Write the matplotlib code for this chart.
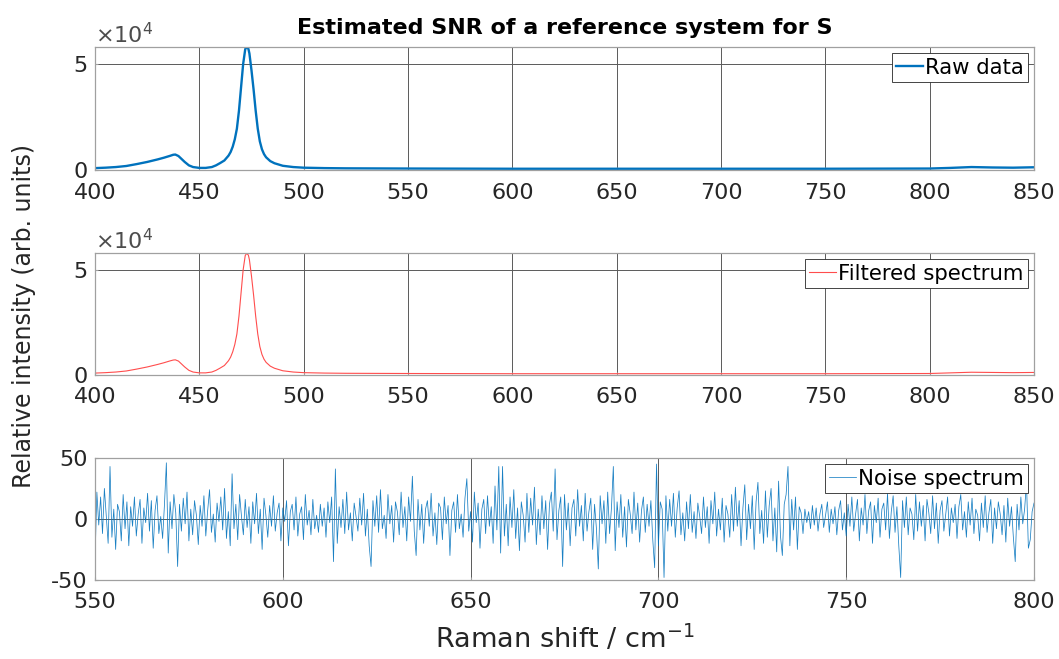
# -*- coding: utf-8 -*-
"""
Estimated SNR of a reference Raman system: raw, filtered and noise spectra.
"""

import numpy as np
import matplotlib
matplotlib.use('Agg')
import matplotlib.pyplot as plt
from matplotlib.ticker import ScalarFormatter

## Spectrum values (intensity in units of 1e4)
shift_raw = [400, 405, 410, 415, 420, 425, 430, 433, 436, 437.5, 438.5, 440, 441.5,
             443, 445, 447, 450, 453, 456, 458, 460, 462, 464, 465, 466, 467, 468,
             469, 470, 471, 472, 472.7, 473.5, 474, 475, 476, 477, 478, 479, 480,
             481, 482, 484, 486, 490, 495, 500, 510, 520, 550, 600, 650, 700, 750,
             800, 810, 820, 830, 840, 850]
raw_int = [0.09, 0.11, 0.14, 0.19, 0.28, 0.38, 0.50, 0.58, 0.67, 0.72, 0.73, 0.66, 0.52,
           0.38, 0.22, 0.14, 0.10, 0.10, 0.14, 0.22, 0.33, 0.45, 0.68, 0.85, 1.10, 1.45, 1.95,
           2.80, 3.90, 5.00, 5.70, 5.80, 5.72, 5.50, 4.70, 3.80, 2.80, 1.95, 1.35, 0.98,
           0.75, 0.60, 0.42, 0.32, 0.20, 0.14, 0.11, 0.09, 0.08, 0.07, 0.06, 0.06, 0.06, 0.06,
           0.07, 0.10, 0.14, 0.12, 0.11, 0.13]
filt_int = [0.09, 0.11, 0.14, 0.19, 0.28, 0.38, 0.50, 0.58, 0.67, 0.71, 0.72, 0.66, 0.52,
            0.38, 0.22, 0.14, 0.10, 0.10, 0.14, 0.22, 0.33, 0.45, 0.68, 0.85, 1.10, 1.45, 1.95,
            2.80, 3.90, 5.00, 5.68, 5.78, 5.70, 5.48, 4.70, 3.80, 2.80, 1.95, 1.35, 0.98,
            0.75, 0.60, 0.42, 0.32, 0.20, 0.14, 0.11, 0.09, 0.08, 0.07, 0.06, 0.06, 0.06, 0.06,
            0.07, 0.10, 0.13, 0.12, 0.11, 0.12]

## Noise spectrum values, 550 to 800 cm-1 in 0.5 cm-1 steps
noise_start = 550
noise_step = 0.5
noise_val = [
    -34, 22, -5, 18, -12, 25, 3, -20, 43, -15, 8, -25, 12, 6, -18, 20, -8, 14, -22, 10,
    -6, 18, -14, 4, 16, -20, 9, -3, 21, -10, 15, -24, 7, 19, -12, 2, -16, 12, 46, -28,
    14, -8, 20, 5, -39, 12, -10, 17, -4, 22, -18, 8, -13, 15, 3, -21, 11, -6, 19, -14,
    7, 24, -11, 4, -19, 13, -2, 18, -9, 25, -16, 6, -22, 37, -8, 12, -17, 20, 2, -13,
    16, -7, 10, -20, 14, -4, 21, -12, 8, -25, 17, 3, -15, 11, -6, 19, -10, 5, 13, -18,
    9, -2, 15, -22, 6, 12, -9, 18, -14, 4, 10, -17, 20, -5, 7, -13, 16, -8, 3, -11,
    12, -6, 9, -15, 14, -3, 18, -35, 41, -20, 10, -7, 16, -12, 22, -9, 5, -18, 13, 2,
    -10, 17, -5, 21, -14, 8, -22, -39, 15, -6, 19, -11, 24, -8, 3, -16, 20, -4, 11, -19,
    14, 6, -13, 22, -7, 10, -18, 18, -2, 35, -10, -30, 16, -9, 12, -20, 8, 15, -6, 21,
    -14, 5, -21, 13, 9, -17, 18, -4, 11, -30, 7, 14, -11, 20, -8, 4, -15, 17, 33, -10,
    6, -19, 22, -3, 13, -24, 8, 16, -12, 19, -6, 10, -20, 27, -9, 43, -28, 43, -14, 12,
    -22, 18, -7, 24, -16, 9, -26, 14, 3, -19, 21, -11, 17, -5, 26, -21, 8, -13, 19, -8,
    15, -25, 12, 22, -10, 41, -17, 7, 18, -39, 20, -9, 13, -22, 9, 16, -14, 24, -6, 11,
    -18, 21, -10, 6, 17, -25, 12, -8, -41, 19, -4, 15, -20, 22, -12, 9, 43, -26, 14, -7,
    20, -15, 10, -23, 16, 4, -12, 22, -9, 13, -19, 7, 18, -11, 12, -6, 15, -17, -40, 45,
    -22, 14, 8, -48, 19, -10, 16, -6, 21, -15, 9, 23, -13, 5, -18, 14, -8, 20, -11, 6,
    -16, 13, 2, -12, 18, -7, 10, -20, 15, -4, 22, -14, 8, -9, 17, -19, 11, 4, -15, 20,
    -10, 26, -6, 15, -22, 9, 28, -17, 12, -8, 19, -25, 14, 30, -12, 7, -20, 23, -15, 11,
    25, -18, 9, -27, 31, -14, -30, 12, 20, 43, -22, 16, -9, 18, -25, 10, 5, -12, 8, -3,
    6, -8, 11, -5, 9, -10, 4, 12, -7, 3, 14, -11, 8, -4, 10, -13, 7, 15, -9, 5,
    -14, 12, -6, 18, -10, 4, 16, -18, 9, -5, 20, -12, 7, 14, -20, 11, -3, 17, -15, 8,
    13, -9, 21, -16, 6, 19, -11, 10, -22, -48, 15, -7, 18, -13, 9, 4, -17, 20, -10, 14,
    -6, 11, -18, 16, 5, -12, 19, -8, 13, -20, 7, 15, -10, 4, 18, -14, 9, -3, 12, -16,
    10, 20, -9, 6, -15, 14, -5, 17, -12, 8, 3, -18, 13, -7, 19, -11, 5, 16, -20, 9,
    -8, 14, 4, -13, 11, -19, 17, -6, 10, -15, -35, 12, -9, 18, -4, 8, 30, -24, -17, 6,
    13]

top_ticks = [400, 450, 500, 550, 600, 650, 700, 750, 800, 850]
noise_ticks = [550, 600, 650, 700, 750, 800]

# Convert to arrays
x_raw = np.array(shift_raw)
y_raw = np.array(raw_int) * 1e4
y_filt = np.array(filt_int) * 1e4
x_noise = noise_start + noise_step * np.arange(len(noise_val))
y_noise = np.array(noise_val)

# Font setup
plt.rcParams['font.family'] = ['DejaVu Sans']
plt.rcParams['mathtext.fontset'] = 'dejavusans'
plt.rcParams['axes.unicode_minus'] = False
txt_col = '#262626'
tick_size = 16
leg_size = 15.3

fig_ure = plt.figure(figsize=(10.59, 6.59), dpi=100)
ax1 = fig_ure.add_axes([0.0897, 0.742, 0.8867, 0.1866])
ax2 = fig_ure.add_axes([0.0897, 0.431, 0.8867, 0.1851])
ax3 = fig_ure.add_axes([0.0897, 0.120, 0.8867, 0.1851])


def style_axes(ax):
    ax.grid(True, color='#5a5a5a', linewidth=0.7)
    ax.set_axisbelow(True)
    for sp in ax.spines.values():
        sp.set_color('#a0a0a0')
        sp.set_linewidth(0.9)
    ax.tick_params(direction='in', length=2, color='#a0a0a0',
                   labelsize=tick_size, labelcolor=txt_col)
    ax.tick_params(axis='x', pad=9)
    ax.tick_params(axis='y', pad=5.5)


def add_legend(ax):
    leg_end = ax.legend(loc='upper right', fontsize=leg_size, fancybox=False,
                        framealpha=1, edgecolor='#262626', handlelength=1.25,
                        handletextpad=0.1, borderpad=0.2, borderaxespad=0.3)
    leg_end.get_frame().set_linewidth(0.6)
    for txt in leg_end.get_texts():
        txt.set_color('black')


# Raw data
ax1.plot(x_raw, y_raw, color='#0072BD', linewidth=1.7, label='Raw data')
ax1.set_xlim(400, 850)
ax1.set_ylim(0, 5.8e4)
ax1.set_xticks(top_ticks)
ax1.set_yticks([0, 5e4])
style_axes(ax1)
add_legend(ax1)

# Filtered spectrum
ax2.plot(x_raw, y_filt, color='#ff4d4d', linewidth=0.8, label='Filtered spectrum')
ax2.set_xlim(400, 850)
ax2.set_ylim(0, 5.8e4)
ax2.set_xticks(top_ticks)
ax2.set_yticks([0, 5e4])
style_axes(ax2)
add_legend(ax2)

# Scientific notation on the two spectrum panels
for ax in (ax1, ax2):
    fmt = ScalarFormatter(useMathText=True)
    fmt.set_powerlimits((0, 0))
    ax.yaxis.set_major_formatter(fmt)
    ax.yaxis.get_offset_text().set_fontsize(tick_size)
    ax.yaxis.get_offset_text().set_color('#4d4d4d')

# Noise spectrum
ax3.plot(x_noise, y_noise, color='#0072BD', linewidth=0.55, alpha=0.9,
         label='Noise spectrum')
ax3.set_xlim(550, 800)
ax3.set_ylim(-50, 50)
ax3.set_xticks(noise_ticks)
ax3.set_yticks([-50, 0, 50])
style_axes(ax3)
add_legend(ax3)

# Title, shared labels
fig_ure.text(0.533, 0.9575, 'Estimated SNR of a reference system for S', fontsize=16,
             fontweight='bold', color='black', ha='center', va='center')
fig_ure.text(0.533, 0.031, 'Raman shift / cm$^{-1}$', fontsize=19.5,
             color=txt_col, ha='center', va='center')
fig_ure.text(0.023, 0.52, 'Relative intensity (arb. units)', rotation=90,
             fontsize=17, color=txt_col, ha='center', va='center')

fig_ure.savefig('out.png', dpi=100)
